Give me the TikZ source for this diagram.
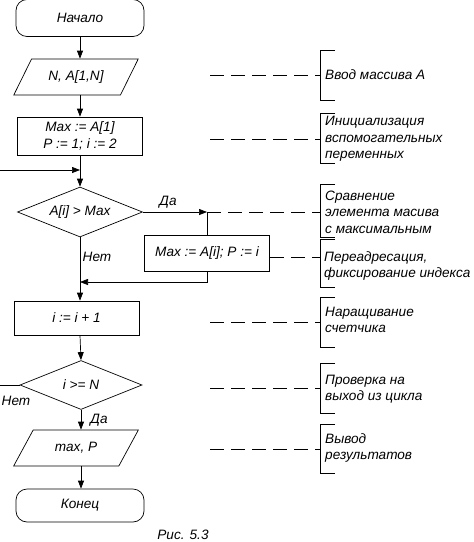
\documentclass[tikz,border=0pt]{standalone}
\usepackage{fontspec}
\setmainfont{Liberation Sans}
\usetikzlibrary{shapes.geometric, arrows.meta}

\tikzset{
  base/.style={draw, line width=0.7pt, inner sep=0pt},
  term/.style={base, rounded corners=11pt, minimum width=128pt, minimum height=37pt},
  proc/.style={base, minimum width=125pt, minimum height=36pt, align=center},
  io/.style={base, trapezium, trapezium left angle=49, trapezium right angle=131,
    trapezium stretches=true, minimum width=125pt, minimum height=36pt},
  cond/.style={base, diamond, aspect=2.5, minimum width=125pt, minimum height=50pt},
  arr/.style={-{Triangle[length=8pt,width=6pt]}, line width=0.7pt},
  lead/.style={dash pattern=on 14pt off 7pt, line width=0.7pt},
  brack/.style={line width=0.7pt},
  note/.style={align=left, anchor=west, inner sep=0pt},
}

\begin{document}
\begin{tikzpicture}[x=1pt, y=-1pt,
  every node/.style={font=\fontsize{13.6}{16.5}\selectfont\itshape}]
  \useasboundingbox (0,0) rectangle (474,542);

  % Flowchart blocks
  \node[term] (start) at (80,18) {Начало};
  \node[io] (in1) at (76,77) {N, A[1,N]};
  \node[proc, minimum height=38pt] (init) at (80,136) {Max := A[1]\\P := 1; i := 2};
  \node[cond] (cmp) at (80,212) {A[i] > Max};
  \node[proc] (swap) at (207,253) {Max := A[i]; P := i};
  \node[proc, minimum height=34pt] (inc) at (76.5,318) {i := i + 1};
  \node[cond, minimum width=122pt, minimum height=49pt] (chk) at (81,385) {i >= N};
  \node[io] (out) at (76,448) {max, P};
  \node[term, minimum height=33pt] (stop) at (80,505.5) {Конец};

  % Helper points of the connectors
  \coordinate (back) at (-3,385);
  \coordinate (loop) at (-3,170);
  \coordinate (yes) at (207,212);
  \coordinate (join) at (207,282);

  % Connectors
  \draw[arr] (start.south) -- (start.south |- in1.north);
  \draw[arr] (start.south |- in1.south) -- (start.south |- init.north);
  \draw[arr] (init.south) -- (cmp.north);
  \draw[arr] (chk.west) -- (back) -- (loop) -- (loop -| cmp.north);
  \draw[arr] (cmp.east) -- (yes);
  \draw[line width=0.7pt] (yes) -- (swap.north);
  \draw[arr] (swap.south) -- (join) -- (join -| cmp.south);
  \draw[arr] (cmp.south) -- (cmp.south |- inc.north);
  \draw[arr] (cmp.south |- inc.south) -- (chk.north);
  \draw[arr] (chk.south) -- (chk.south |- out.north);
  \draw[arr] (chk.south |- out.south) -- (chk.south |- stop.north);

  % Branch labels
  \node (yes1) at (168,202) {Да};
  \node (no1) at (97,257) {Нет};
  \node (no2) at (16,401) {Нет};
  \node (yes2) at (99,420) {Да};

  % Comment leaders
  \coordinate (m1) at (320,75);
  \coordinate (m2) at (320,139);
  \coordinate (m3) at (320,212);
  \coordinate (m4) at (320,257);
  \coordinate (m5) at (320,322);
  \coordinate (m6) at (320,388);
  \coordinate (m7) at (320,449);
  \draw[lead] (210,75) -- (m1);
  \draw[lead] (210,139) -- (m2);
  \draw[lead] (yes) -- (m3);
  \draw[lead] (swap.east |- m4) -- (m4);
  \draw[lead] (210,322) -- (m5);
  \draw[lead] (210,388) -- (m6);
  \draw[lead] (210,449) -- (m7);

  % Comment brackets
  \draw[brack] (335,50) -- (320,50) -- (320,100) -- (335,100);
  \draw[brack] (335,113) -- (320,113) -- (320,163) -- (335,163);
  \draw[brack] (335,184) -- (320,184) -- (320,237) -- (335,237);
  \draw[brack] (335,239) -- (320,239) -- (320,287) -- (335,287);
  \draw[brack] (335,297) -- (320,297) -- (320,347) -- (335,347);
  \draw[brack] (335,363) -- (320,363) -- (320,413) -- (335,413);
  \draw[brack] (335,424) -- (320,424) -- (320,473) -- (335,473);

  % Comment texts
  \node[note] (c1) at (325,75) {Ввод массива A};
  \node[note] (c2) at (325,139) {Инициализация\\вспомогательных\\переменных};
  \node[note] (c3) at (325,212) {Сравнение\\элемента масива\\с максимальным};
  \node[note] (c4) at (324,266) {Переадресация,\\фиксирование индекса};
  \node[note] (c5) at (325,320) {Наращивание\\счетчика};
  \node[note] (c6) at (325,389) {Проверка на\\выход из цикла};
  \node[note] (c7) at (325,448) {Вывод\\результатов};

  % Caption
  \node (cap) at (183,535) {Рис. 5.3};
\end{tikzpicture}
\end{document}
